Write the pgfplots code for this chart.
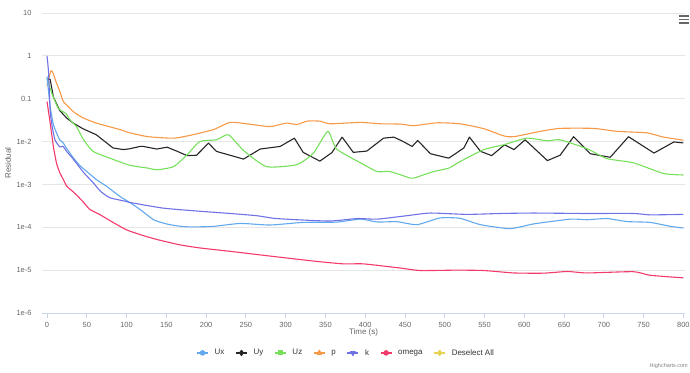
\documentclass[border=0pt]{standalone}
\usepackage{fontspec}
\setmainfont{Liberation Sans}
\usepackage{pgfplots}
\pgfplotsset{compat=1.18}
\definecolor{cUx}{HTML}{62A8EC}
\definecolor{cUy}{HTML}{262628}
\definecolor{cUz}{HTML}{77E05A}
\definecolor{cp}{HTML}{F79A48}
\definecolor{ck}{HTML}{6F72E6}
\definecolor{cw}{HTML}{F23A6B}
\definecolor{cy}{HTML}{E4D354}
\definecolor{gridc}{HTML}{E6E6E6}
\definecolor{axc}{HTML}{CCD6EB}
\definecolor{labc}{HTML}{666666}
\definecolor{legc}{HTML}{333333}
\begin{document}
\begin{tikzpicture}
\path[use as bounding box] (0,0) rectangle (690bp,373bp);
\begin{axis}[
  at={(42bp,60bp)}, anchor=south west,
  scale only axis, width=643bp, height=300bp,
  ymode=log, ymin=1e-6, ymax=10,
  xmin=-6.3, xmax=802,
  axis x line*=bottom, axis y line*=left,
  x axis line style={draw=axc, line width=0.8bp},
  y axis line style={draw=none},
  xtick={0,50,...,800},
  xtick style={draw=axc, line width=0.8bp},
  tick align=outside, major tick length=5bp,
  ytick={1e-6,1e-5,1e-4,1e-3,1e-2,1e-1,1,10},
  yticklabels={1e-6,1e-5,1e-4,1e-3,1e-2,0.1,1,10},
  ytick style={draw=none},
  yminorticks=false, xminorticks=false,
  ymajorgrids, grid style={draw=gridc, line width=0.8bp},
  /pgf/number format/assume math mode=true,
  tick label style={font=\fontsize{7.5}{9}\selectfont, text=labc},
  xticklabel style={yshift=-1bp},
  yticklabel style={xshift=-2bp},
  xlabel={Time (s)}, ylabel={Residual},
  xlabel style={at={(axis description cs:0.5,0)}, anchor=center, yshift=-19bp,
    font=\fontsize{8}{10}\selectfont, text=labc},
  ylabel style={at={(axis description cs:-0.053,0.5)}, anchor=center,
    font=\fontsize{8}{10}\selectfont, text=labc},
  legend style={at={(0.473,-0.133)}, anchor=center, draw=none, fill=none,
    font=\fontsize{8}{10}\selectfont, text=legc, column sep=4bp,
    /tikz/every even column/.append style={column sep=9bp}},
  legend columns=7,
  legend cell align=left,
  legend image code/.code={
    \draw[#1, line width=1.2bp, mark=none] (0bp,0bp) -- (11bp,0bp);
    \path[#1, draw=none] plot coordinates {(5.5bp,0bp)};
  },
  every axis plot/.append style={line width=1.1bp, line join=round},
]
\addlegendimage{cUx, mark=*, mark size=2.2bp}
\addlegendentry{Ux}
\addlegendimage{cUy, mark=diamond*, mark size=2.6bp}
\addlegendentry{Uy}
\addlegendimage{cUz, mark=square*, mark size=2bp}
\addlegendentry{Uz}
\addlegendimage{cp, mark=triangle*, mark size=2.6bp}
\addlegendentry{p}
\addlegendimage{ck, mark=triangle*, mark size=2.6bp, mark options={rotate=180}}
\addlegendentry{k}
\addlegendimage{cw, mark=*, mark size=2.2bp}
\addlegendentry{omega}
\addlegendimage{cy, mark=diamond*, mark size=2.6bp}
\addlegendentry{Deselect All}

% p
\addplot[cp, mark=none, smooth, tension=0.35, forget plot] coordinates {
(0,0.2) (5,0.45) (8,0.38) (12,0.23) (16,0.15) (20.5,0.086) (27,0.065) (33,0.05) (45,0.036) (62,0.027) (92,0.019) (104,0.016) (127,0.013) (159,0.012) (180,0.014) (209,0.019) (230,0.028) (251,0.026) (280,0.0224) (301,0.027) (314,0.025) (327,0.030) (343,0.030) (356,0.026) (394,0.028) (419,0.026) (444,0.0256) (461,0.0235) (490,0.0274) (519,0.026) (549,0.020) (574,0.0136) (587,0.013) (620,0.0173) (645,0.0203) (687,0.0203) (717,0.0173) (754,0.016) (775,0.0127) (800,0.0108)
};
% Uy
\addplot[cUy, mark=none, forget plot] coordinates {
(0,0.30) (4,0.28) (8,0.11) (16,0.053) (25,0.035) (33,0.027) (45,0.02) (62,0.0144) (83,0.0071) (96,0.0065) (104,0.0068) (117,0.0077) (121,0.0077) (138,0.0067) (151,0.0074) (163,0.006) (176,0.0047) (188,0.0048) (203,0.0092) (213,0.0059) (230,0.0048) (247,0.0039) (268,0.0067) (293,0.0077) (311,0.012) (322,0.0056) (343,0.0035) (358,0.0055) (371,0.0127) (385,0.0056) (402,0.006) (423,0.012) (436,0.0127) (446,0.0104) (459,0.0077) (466,0.0106) (482,0.0052) (505,0.0041) (524,0.0071) (531,0.0127) (545,0.0059) (559,0.0047) (575,0.0084) (587,0.0065) (601,0.011) (629,0.0036) (645,0.0048) (662,0.013) (683,0.0052) (708,0.0043) (731,0.013) (763,0.0054) (788,0.0098) (800,0.0093)
};
% Uz
\addplot[cUz, mark=none, smooth, tension=0.35, forget plot] coordinates {
(0,0.30) (6,0.135) (14,0.06) (20,0.05) (24,0.045) (29,0.032) (37,0.0224) (46,0.011) (58,0.0059) (79,0.0041) (104,0.0028) (127,0.0024) (138,0.0022) (159,0.0026) (176,0.0049) (192,0.01) (213,0.011) (228,0.0144) (247,0.0062) (276,0.0026) (314,0.0029) (335,0.0054) (353,0.0173) (364,0.0067) (394,0.0032) (415,0.002) (431,0.002) (457,0.0014) (461,0.0014) (486,0.002) (505,0.0024) (519,0.0034) (549,0.0065) (574,0.0084) (603,0.012) (629,0.0104) (645,0.011) (679,0.0068) (704,0.004) (737,0.0032) (775,0.0018) (800,0.00166)
};
% Ux
\addplot[cUx, mark=none, smooth, tension=0.35, forget plot] coordinates {
(0,0.33) (4,0.066) (8,0.025) (12,0.016) (16,0.011) (20,0.0095) (25,0.0068) (33,0.0042) (41,0.0028) (50,0.002) (62,0.0013) (75,0.0009) (92,5.2e-4) (104,3.8e-4) (117,2.6e-4) (134,1.5e-4) (150,1.2e-4) (165,1.07e-4) (180,1.02e-4) (209,1.05e-4) (243,1.23e-4) (280,1.13e-4) (322,1.3e-4) (364,1.32e-4) (394,1.55e-4) (415,1.33e-4) (440,1.35e-4) (465,1.15e-4) (494,1.65e-4) (519,1.62e-4) (545,1.15e-4) (582,9.3e-5) (612,1.2e-4) (658,1.55e-4) (679,1.5e-4) (704,1.6e-4) (729,1.36e-4) (758,1.3e-4) (784,1.05e-4) (800,9.6e-5)
};
% k
\addplot[ck, mark=none, smooth, tension=0.35, forget plot] coordinates {
(0,1.0) (2,0.4) (4,0.05) (7,0.02) (10,0.011) (16,0.0075) (20,0.0078) (25,0.0058) (33,0.0039) (46,0.0019) (58,0.0011) (67,7e-4) (79,4.9e-4) (100,4.0e-4) (104,3.8e-4) (146,2.8e-4) (188,2.4e-4) (230,2.1e-4) (264,1.86e-4) (285,1.62e-4) (314,1.5e-4) (356,1.4e-4) (390,1.6e-4) (415,1.55e-4) (452,1.86e-4) (482,2.15e-4) (528,2.0e-4) (570,2.1e-4) (612,2.15e-4) (675,2.1e-4) (737,2.1e-4) (758,1.95e-4) (800,2.0e-4)
};
% omega
\addplot[cw, mark=none, smooth, tension=0.35, forget plot] coordinates {
(0,0.086) (4,0.027) (8,0.0077) (12,0.0031) (16,0.0019) (20.5,0.0013) (25,9e-4) (30,7.5e-4) (37,5.7e-4) (45,4e-4) (54,2.6e-4) (67,1.95e-4) (80,1.4e-4) (100,8.7e-5) (120,6.5e-5) (138,5.2e-5) (167,3.9e-5) (192,3.3e-5) (230,2.75e-5) (293,2.0e-5) (339,1.6e-5) (373,1.4e-5) (398,1.4e-5) (444,1.12e-5) (469,9.8e-6) (515,1.0e-5) (549,9.8e-6) (587,8.6e-6) (624,8.5e-6) (654,9.3e-6) (679,8.6e-6) (737,9.2e-6) (758,7.6e-6) (800,6.6e-6)
};
\end{axis}
% menu icon
\foreach \yy in {350,353.5,357}{
  \draw[labc, line width=1.3bp] (679bp,\yy bp) -- (689bp,\yy bp);
}
\node[anchor=east, text=gray, font=\fontsize{5.5}{6}\selectfont, inner sep=0pt] at (688bp,7bp) {Highcharts.com};
\end{tikzpicture}
\end{document}
